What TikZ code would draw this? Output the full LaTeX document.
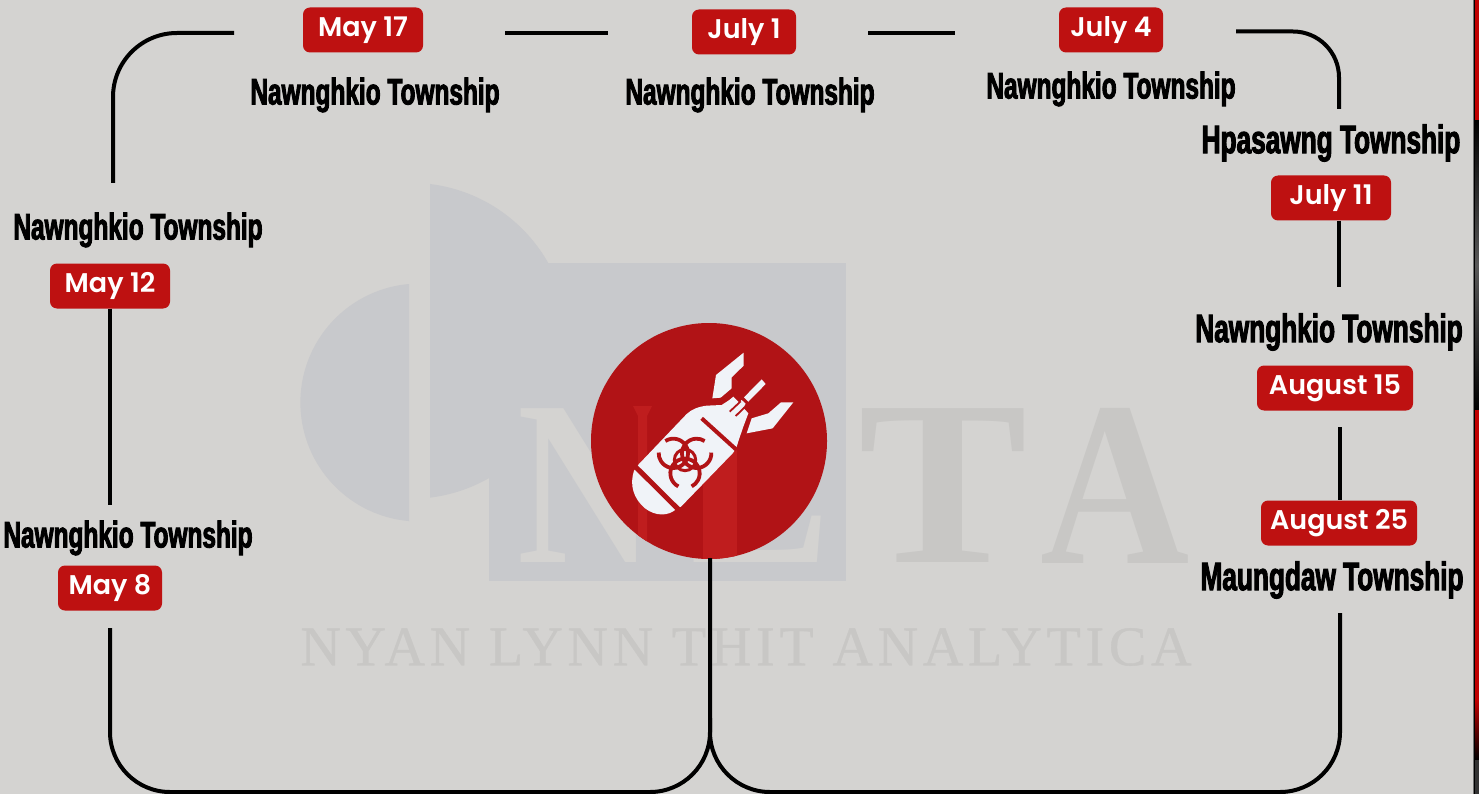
\documentclass[tikz,border=0pt]{standalone}
\usepackage{fontspec}
\setmainfont{Liberation Serif}
\newfontfamily\townfont[FakeStretch=0.66,FakeBold=2.4]{Liberation Sans Bold}
\newfontfamily\datefont{Poppins SemiBold}
\newfontfamily\brandfont[FakeBold=0.7,LetterSpace=8.5]{Liberation Serif}
\usepackage{tikz}
\usetikzlibrary{calc,positioning}
\definecolor{paper}{HTML}{D4D3D1}
\definecolor{markgrey}{HTML}{C8C9CC}
\definecolor{lettergrey}{HTML}{C8C7C5}
\definecolor{discred}{HTML}{B11316}
\definecolor{lettered}{HTML}{BF1D1E}
\definecolor{badgered}{HTML}{BE1111}
\definecolor{bombwhite}{HTML}{F0F3F8}
\definecolor{edgered}{HTML}{C00000}
\tikzset{
        date/.style = {fill=badgered, rounded corners=7pt, text=white,
            minimum height=45pt, inner sep=0pt, anchor=center,
            font=\datefont\fontsize{27}{27}\selectfont},
        town/.style = {text=black, inner sep=0pt,
            font=\townfont\fontsize{37}{37}\selectfont},
        bigtown/.style = {town, font=\townfont\fontsize{39.7}{39.7}\selectfont},
        link/.style = {draw=black, line width=4pt},
        bigletter/.style = {inner sep=0pt, font=\bfseries\fontsize{235}{235}\selectfont},
        bomb/.style = {fill=bombwhite, draw=none},
        gap/.style = {draw=discred},
        hazard/.style = {draw=discred, line width=3.8pt, line cap=butt},
    }

\begin{document}
\begin{tikzpicture}[x=1pt,y=-1pt]
    \useasboundingbox (0,0) rectangle (1479,794);
    \fill[paper] (0,0) rectangle (1479,794);

    % watermark
    \fill[markgrey] (409,284) arc[start angle=-95,delta angle=-170,radius=119] -- cycle;
    \fill[markgrey] (430,184) arc[start angle=-83,delta angle=166,radius=158] -- cycle;
    \fill[markgrey] (489,263) rectangle (846,581);
    \node[bigletter, text=paper, xscale=0.81] (letterN) at (586,486) {N};
    \node[bigletter, text=paper, xscale=0.89] (letterL) at (760,486) {L};
    \node[bigletter, text=lettergrey, xscale=1.08] (letterT) at (943,486) {T};
    \node[bigletter, text=lettergrey, xscale=0.88] (letterA) at (1115,486) {A};
    \node[text=lettergrey, inner sep=0pt, font=\brandfont\fontsize{56}{56}\selectfont] (brand) at (746,647) {NYAN LYNN THIT ANALYTICA};

    % main disc
    \node[circle, fill=discred, minimum size=236pt, inner sep=0pt] (disc) at (709,441) {};
    \begin{scope}
        \clip (709,441) circle[radius=118];
        \fill[lettered] (633,406) -- (652,406) -- (647,416) -- (647,565) -- (638,565) -- (638,416) -- cycle;
        \fill[lettered] (703,406) rectangle (737,565);
    \end{scope}

    % bomb icon
    \begin{scope}[shift={(580,310)},scale=1/3]
        \fill[bomb] (162,482) .. controls (148,525) and (160,565) .. (195,595)
            .. controls (228,620) and (265,618) .. (288,598) -- (303,590) -- (458,430)
            -- (468,416) -- (478,385) -- (490,350) -- (505,310) -- (490,293) -- (497,281)
            -- (485,270) -- (477,277) -- (460,260) -- (448,270) -- (425,285)
            -- (380,287) .. controls (355,290) and (335,298) .. (320,312) -- (176,463) -- cycle;
        \fill[bomb] (491,128) -- (491,167) -- (455,202) -- (455,235) -- (422,263) -- (397,265) -- (408,195) -- cycle;
        \fill[bomb] (603,277) -- (640,277) -- (578,355) -- (500,370) -- (515,325) -- (565,310) -- cycle;
        \fill[bomb] (545,208) -- (557,222) -- (505,275) -- (492,262) -- cycle;
        % bands
        \draw[gap, line width=5pt] (160,464) -- (298,601);
        \draw[gap, line width=4pt] (365,325) -- (470,420);
        \draw[gap, line width=1.8pt] (449,305) -- (482,274);
        \draw[gap, line width=1.8pt] (467,318) -- (494,292);
        % hazard mark
        \draw[hazard, line width=3pt] (315,450) circle[radius=32];
        \draw[hazard] (280,430) ++(-123:44) arc[start angle=-123,end angle=183,radius=44];
        \draw[hazard] (350,430) ++(-3:44) arc[start angle=-3,end angle=303,radius=44];
        \draw[hazard] (315,490) ++(117:44) arc[start angle=117,end angle=423,radius=44];
    \end{scope}

    % dates
    \node[date, minimum width=104pt] (may8)  at (110,588) {May 8};
    \node[date, minimum width=120pt] (may12) at (110,286) {May 12};
    \node[date, minimum width=120pt] (may17) at (363,30)  {May 17};
    \node[date, minimum width=104pt] (jul1)  at (744,32)  {July 1};
    \node[date, minimum width=104pt] (jul4)  at (1111,30) {July 4};
    \node[date, minimum width=120pt] (jul11) at (1331,198) {July 11};
    \node[date, minimum width=156pt] (aug15) at (1335,388) {August 15};
    \node[date, minimum width=156pt] (aug25) at (1339,523) {August 25};

    % townships
    \node[town] at ($(may8) + (18,-50)$) (townA) {Nawnghkio Township};
    \node[town] at ($(may12) + (28,-56)$) (townB) {Nawnghkio Township};
    \node[town] at ($(may17) + (12,65)$) (townC) {Nawnghkio Township};
    \node[town] at ($(jul1) + (6,63)$) (townD) {Nawnghkio Township};
    \node[town] at ($(jul4) + (0,59)$) (townE) {Nawnghkio Township};
    \node[bigtown] at ($(jul11) + (0,-55)$) (townF) {Hpasawng Township};
    \node[bigtown] at ($(aug15) + (-6,-56)$) (townG) {Nawnghkio Township};
    \node[bigtown] at ($(aug25) + (-7,57)$) (townH) {Maungdaw Township};

    % loose ends of the line
    \coordinate (leftTop) at (113,183);
    \coordinate (topA) at (234,33);
    \coordinate (topB) at (505,33);
    \coordinate (topC) at (608,33);
    \coordinate (topD) at (868,33);
    \coordinate (topE) at (955,33);
    \coordinate (topF) at (1236,31.5);
    \coordinate (rightA) at (1339,109);
    \coordinate (rightB) at (1339,287);
    \coordinate (rightC) at (1340,427);
    \coordinate (leftA) at (110,505);
    \coordinate (leftB) at (110,628);
    \coordinate (rightD) at (1340,613);
    \coordinate (discFoot) at (710,558);
    \coordinate (joinY) at (710,718);

    % links
    \draw[link, rounded corners=64pt] (leftTop) -- (113,33) -- (topA);
    \draw[link] (topB) -- (topC);
    \draw[link] (topD) -- (topE);
    \draw[link, rounded corners=46pt] (topF) -- (1339,31.5) -- (rightA);
    \draw[link] (jul11.south -| rightB) -- (rightB);
    \draw[link] (rightC) -- (aug25.north -| rightC);
    \draw[link] (may12.south) -- (leftA);
    \draw[link, rounded corners=60pt] (leftB) -- (110,792) -- (710,792) -- (discFoot);
    \draw[link, rounded corners=60pt] (rightD) -- (1340,792) -- (710,792) -- (joinY);

    % right edge strip
    \fill[black!55] (1472.5,0) rectangle (1474,794);
    \fill[black] (1474,0) rectangle (1475,794);
    \shade[top color=black, bottom color=black, middle color=black!65] (1475,120) rectangle (1479,410);
    \fill[edgered] (1475,0) rectangle (1479,120);
    \fill[edgered] (1475,410) rectangle (1479,700);
    \shade[top color=edgered, bottom color=black] (1475,700) rectangle (1479,760);
    \fill[black!80] (1475,760) rectangle (1479,794);
\end{tikzpicture}
\end{document}
